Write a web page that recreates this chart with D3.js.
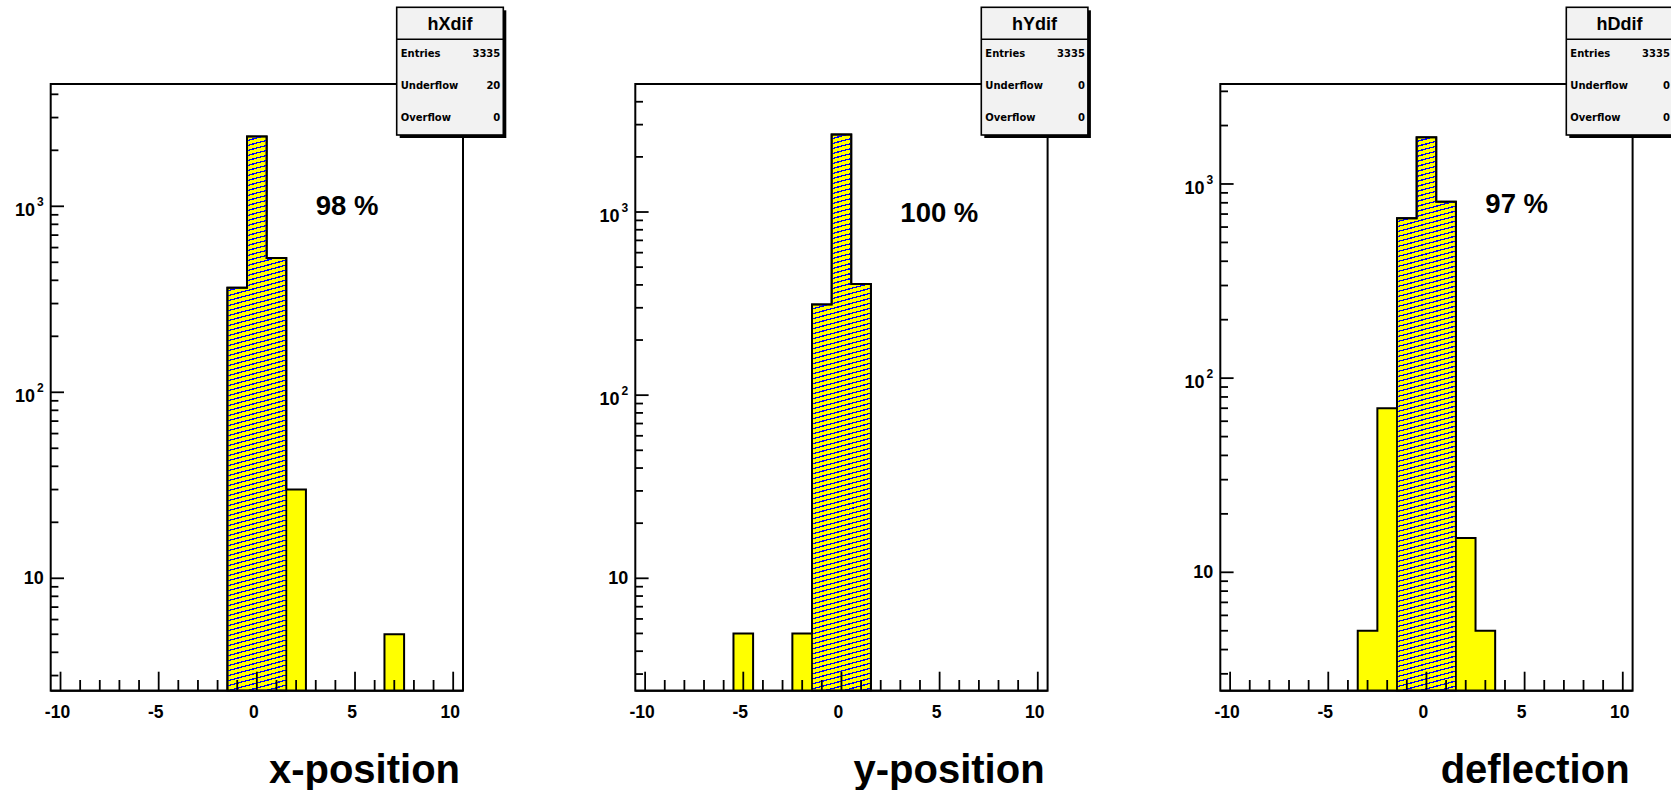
<!DOCTYPE html>
<html>
<head>
<meta charset="utf-8">
<script src="https://cdn.jsdelivr.net/npm/d3@7/dist/d3.min.js"></script>
<style>
  body { margin: 0; background: #ffffff; }
  svg { display: block; }
</style>
</head>
<body>
<svg id="chart" width="1671" height="790"></svg>
<script>
// ---------------- data ----------------
const binCenters = [-10, -9, -8, -7, -6, -5, -4, -3, -2, -1, 0, 1, 2, 3, 4, 5, 6, 7, 8, 9, 10];
const hXdif = [0, 0, 0, 0, 0, 0, 0, 0, 0, 365, 2376, 527, 30, 0, 0, 0, 0, 5, 0, 0, 0];
const hYdif = [0, 0, 0, 0, 0, 5, 0, 0, 5, 313, 2650, 404, 0, 0, 0, 0, 0, 0, 0, 0, 0];
const hDdif = [0, 0, 0, 0, 0, 0, 0, 5, 70, 666, 1740, 811, 15, 5, 0, 0, 0, 0, 0, 0, 0];
const hatchedBins = [-1, 0, 1];

const histNames = ["hXdif", "hYdif", "hDdif"];
const axisTitles = ["x-position", "y-position", "deflection"];
const efficiencies = ["98 %", "100 %", "97 %"];
const entries = [3335, 3335, 3335];
const underflows = [20, 0, 0];
const overflows = [0, 0, 0];

const xRange = [-10.5, 10.5];
const xMajorTicks = [-10, -5, 0, 5, 10];
const yRanges = [[2.487, 4545], [2.434, 5000], [2.456, 3273]];
const effLabelAt = [[3.0, 898], [3.0, 885], [3.0, 707]];   // data coords (x, count)

const seriesList = [hXdif, hYdif, hDdif];

// ---------------- layout ----------------
const frameLefts = [50.7, 635.3, 1220.3];
const frameW = 412.3, frameTop = 84, frameBottom = 690.7;
const YELLOW = "#ffff00", BLUE = "#0000ff";
const BOLD = "'Liberation Sans', Arial, Helvetica, sans-serif";
const hatchGap = 5, hatchSlope = Math.tan(15 * Math.PI / 180);

const svg = d3.select("#chart");
const defs = svg.append("defs");
const line = d3.line().x(d => d[0]).y(d => d[1]);

seriesList.forEach((values, p) => {
  const left = frameLefts[p], right = left + frameW;
  const x = d3.scaleLinear().domain(xRange).range([left, right]);
  const y = d3.scaleLog().domain(yRanges[p]).range([frameBottom, frameTop]);
  const g = svg.append("g");
  const yv = v => v > 0 ? y(v) : frameBottom;

  // full histogram step outline
  const pts = [[x(xRange[0]), frameBottom]];
  binCenters.forEach((c, i) => {
    pts.push([x(c - 0.5), yv(values[i])]);
    pts.push([x(c + 0.5), yv(values[i])]);
  });
  pts.push([x(xRange[1]), frameBottom]);
  g.append("path")
    .attr("d", line(pts) + "Z")
    .attr("fill", YELLOW)
    .attr("stroke", "#000").attr("stroke-width", 2)
    .attr("stroke-linejoin", "miter");

  // hatched part
  const hp = [];
  hatchedBins.forEach((c, k) => {
    const i = binCenters.indexOf(c);
    if (k === 0) hp.push([x(c - 0.5), frameBottom]);
    hp.push([x(c - 0.5), yv(values[i])]);
    hp.push([x(c + 0.5), yv(values[i])]);
    if (k === hatchedBins.length - 1) hp.push([x(c + 0.5), frameBottom]);
  });
  const hd = line(hp) + "Z";
  const clipId = "hclip" + p;
  defs.append("clipPath").attr("id", clipId).append("path").attr("d", hd);
  const xa = hp[0][0], xb = hp[hp.length - 1][0];
  const topY = d3.min(hp, d => d[1]);
  const hatchYs = d3.range(topY - 10, frameBottom + (xb - xa) * hatchSlope + 10, hatchGap);
  g.append("g").attr("clip-path", `url(#${clipId})`)
    .selectAll("line").data(hatchYs).enter().append("line")
    .attr("x1", xa - 2).attr("x2", xb + 2)
    .attr("y1", d => d).attr("y2", d => d - (xb - xa + 4) * hatchSlope)
    .attr("stroke", BLUE).attr("stroke-width", 1.3)
    .attr("shape-rendering", "crispEdges");
  g.append("path")
    .attr("d", hd)
    .attr("fill", "none")
    .attr("stroke", "#000").attr("stroke-width", 1.8);

  // x ticks (pointing inward)
  const xt = x.ticks(21);
  g.selectAll(".xt").data(xt).enter().append("line")
    .attr("x1", d => x(d)).attr("x2", d => x(d))
    .attr("y1", frameBottom)
    .attr("y2", d => frameBottom - (xMajorTicks.includes(d) ? 19 : 10.7))
    .attr("stroke", "#000").attr("stroke-width", 1.8);
  g.selectAll(".xl").data(xMajorTicks).enter().append("text")
    .attr("x", d => x(d) - 3).attr("y", 718)
    .attr("text-anchor", "middle")
    .attr("font-family", BOLD).attr("font-weight", "bold").attr("font-size", 17.5)
    .attr("fill", "#000")
    .text(d => String(d));

  // y ticks (log)
  const yt = y.ticks();
  const isMajor = v => Math.abs(Math.log10(v) - Math.round(Math.log10(v))) < 1e-9;
  g.selectAll(".yt").data(yt).enter().append("line")
    .attr("x1", left).attr("x2", d => left + (isMajor(d) ? 13.3 : 7.7))
    .attr("y1", d => y(d)).attr("y2", d => y(d))
    .attr("stroke", "#000").attr("stroke-width", 1.8);
  yt.filter(isMajor).forEach(v => {
    const e = Math.round(Math.log10(v));
    const t = g.append("text")
      .attr("font-family", BOLD).attr("font-weight", "bold").attr("font-size", 18)
      .attr("fill", "#000").attr("text-anchor", "end");
    if (e === 1) {
      t.attr("x", left - 7).attr("y", y(v) + 5.5).text("10");
    } else {
      t.attr("x", left - 7).attr("y", y(v) + 10);
      t.append("tspan").text("10");
      t.append("tspan").attr("font-size", 12).attr("dx", 2).attr("dy", -10).text(String(e));
    }
  });

  // frame
  g.append("rect")
    .attr("x", left).attr("y", frameTop)
    .attr("width", frameW).attr("height", frameBottom - frameTop)
    .attr("fill", "none").attr("stroke", "#000").attr("stroke-width", 2);

  // efficiency label
  g.append("text")
    .attr("x", x(effLabelAt[p][0])).attr("y", y(effLabelAt[p][1]))
    .attr("font-family", BOLD).attr("font-weight", "bold").attr("font-size", 27.5)
    .attr("fill", "#000")
    .text(efficiencies[p]);

  // axis title
  g.append("text")
    .attr("x", right - 3).attr("y", 783)
    .attr("text-anchor", "end")
    .attr("font-family", BOLD).attr("font-weight", "bold").attr("font-size", 40)
    .attr("fill", "#000")
    .text(axisTitles[p]);

  // stats box
  const bx = right - 66.3, by = 7.3, bw = 106.6, bh = 127.7, th = 32;
  g.append("rect").attr("x", bx + 3).attr("y", by + 3).attr("width", bw).attr("height", bh)
    .attr("fill", "#000");
  g.append("rect").attr("x", bx).attr("y", by).attr("width", bw).attr("height", bh)
    .attr("fill", "#f2f2f2").attr("stroke", "#000").attr("stroke-width", 1.6);
  g.append("line").attr("x1", bx).attr("x2", bx + bw).attr("y1", by + th).attr("y2", by + th)
    .attr("stroke", "#000").attr("stroke-width", 1.6);
  g.append("text")
    .attr("x", bx + bw / 2).attr("y", by + 23)
    .attr("text-anchor", "middle")
    .attr("font-family", BOLD).attr("font-weight", "bold").attr("font-size", 18)
    .attr("fill", "#000").text(histNames[p]);
  const rows = [["Entries", entries[p]], ["Underflow", underflows[p]], ["Overflow", overflows[p]]];
  const rowBase = [57, 88.6, 121];
  rows.forEach((r, k) => {
    g.append("text").attr("x", bx + 4).attr("y", rowBase[k])
      .attr("font-family", "'DejaVu Sans', sans-serif").attr("font-weight", "bold").attr("font-size", 10)
      .attr("fill", "#000").text(r[0]);
    g.append("text").attr("x", bx + bw - 3).attr("y", rowBase[k])
      .attr("text-anchor", "end")
      .attr("font-family", "'DejaVu Sans', sans-serif").attr("font-weight", "bold").attr("font-size", 10)
      .attr("fill", "#000").text(String(r[1]));
  });
});
</script>
</body>
</html>
